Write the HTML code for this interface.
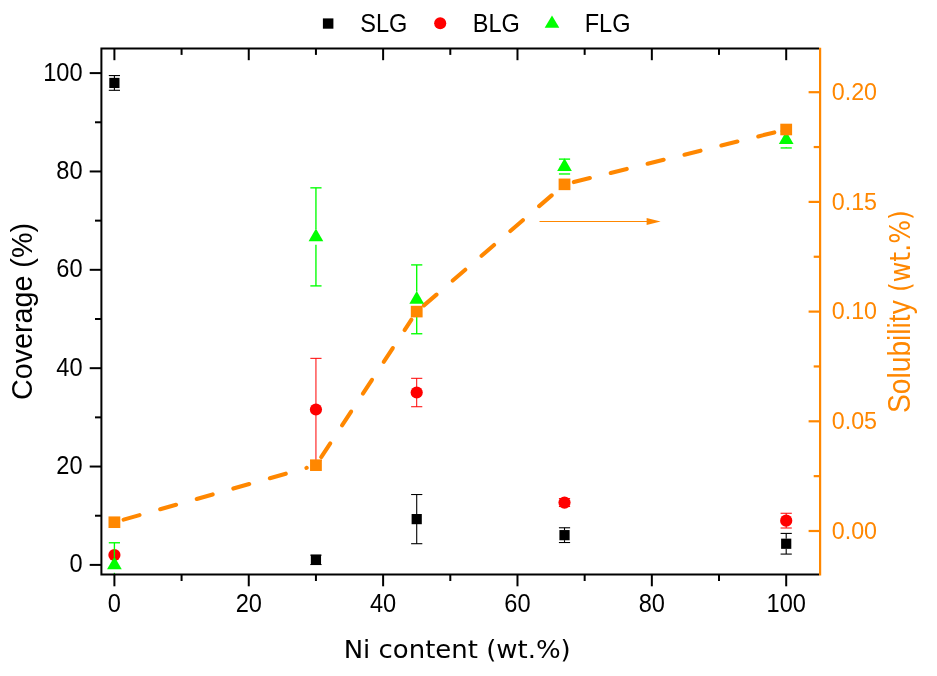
<!DOCTYPE html>
<html><head><meta charset="utf-8"><title>Chart</title><style>html,body{margin:0;padding:0;background:#fff}svg{display:block}</style></head><body>
<svg width="937" height="676" viewBox="0 0 937 676">
<rect width="937" height="676" fill="#fff"/>
<g fill="none" stroke="#ff8700" stroke-width="4.1" stroke-dasharray="16.5 21.5" stroke-linecap="round">
<line x1="123.64" y1="519.61" x2="306.70" y2="467.79"/>
<line x1="321.21" y1="457.15" x2="411.44" y2="319.63"/>
<line x1="423.98" y1="305.34" x2="557.23" y2="190.61"/>
<line x1="573.83" y1="182.04" x2="776.88" y2="131.80"/>
</g>
<g stroke="#000" stroke-width="1.1" fill="none"><line x1="114.40" y1="75.56" x2="114.40" y2="77.94"/><line x1="114.40" y1="87.94" x2="114.40" y2="90.31"/><line x1="108.80" y1="75.56" x2="120.00" y2="75.56"/><line x1="108.80" y1="90.31" x2="120.00" y2="90.31"/></g>
<rect x="109.30" y="77.84" width="10.2" height="10.2" fill="#000"/>
<g stroke="#000" stroke-width="1.1" fill="none"><line x1="310.34" y1="555.16" x2="321.54" y2="555.16"/><line x1="310.34" y1="564.51" x2="321.54" y2="564.51"/></g>
<rect x="310.84" y="554.73" width="10.2" height="10.2" fill="#000"/>
<g stroke="#000" stroke-width="1.1" fill="none"><line x1="416.71" y1="494.52" x2="416.71" y2="514.11"/><line x1="416.71" y1="524.11" x2="416.71" y2="543.70"/><line x1="411.11" y1="494.52" x2="422.31" y2="494.52"/><line x1="411.11" y1="543.70" x2="422.31" y2="543.70"/></g>
<rect x="411.61" y="514.01" width="10.2" height="10.2" fill="#000"/>
<g stroke="#000" stroke-width="1.1" fill="none"><line x1="564.51" y1="527.77" x2="564.51" y2="530.15"/><line x1="564.51" y1="540.15" x2="564.51" y2="542.52"/><line x1="558.91" y1="527.77" x2="570.11" y2="527.77"/><line x1="558.91" y1="542.52" x2="570.11" y2="542.52"/></g>
<rect x="559.41" y="530.05" width="10.2" height="10.2" fill="#000"/>
<g stroke="#000" stroke-width="1.1" fill="none"><line x1="786.20" y1="533.42" x2="786.20" y2="538.75"/><line x1="786.20" y1="548.75" x2="786.20" y2="554.08"/><line x1="780.60" y1="533.42" x2="791.80" y2="533.42"/><line x1="780.60" y1="554.08" x2="791.80" y2="554.08"/></g>
<rect x="781.10" y="538.65" width="10.2" height="10.2" fill="#000"/>
<circle cx="114.40" cy="555.06" r="6.1" fill="#ff0000"/>
<g stroke="#ff0000" stroke-width="1.0" fill="none"><line x1="315.94" y1="358.34" x2="315.94" y2="404.49"/><line x1="315.94" y1="414.49" x2="315.94" y2="460.64"/><line x1="310.34" y1="358.34" x2="321.54" y2="358.34"/><line x1="310.34" y1="460.64" x2="321.54" y2="460.64"/></g>
<circle cx="315.94" cy="409.49" r="6.1" fill="#ff0000"/>
<g stroke="#ff0000" stroke-width="1.0" fill="none"><line x1="416.71" y1="378.31" x2="416.71" y2="387.52"/><line x1="416.71" y1="397.52" x2="416.71" y2="406.74"/><line x1="411.11" y1="378.31" x2="422.31" y2="378.31"/><line x1="411.11" y1="406.74" x2="422.31" y2="406.74"/></g>
<circle cx="416.71" cy="392.52" r="6.1" fill="#ff0000"/>
<g stroke="#ff0000" stroke-width="1.0" fill="none"><line x1="558.91" y1="498.65" x2="570.11" y2="498.65"/><line x1="558.91" y1="506.52" x2="570.11" y2="506.52"/></g>
<circle cx="564.51" cy="502.59" r="6.1" fill="#ff0000"/>
<g stroke="#ff0000" stroke-width="1.0" fill="none"><line x1="786.20" y1="513.26" x2="786.20" y2="515.64"/><line x1="786.20" y1="525.64" x2="786.20" y2="528.01"/><line x1="780.60" y1="513.26" x2="791.80" y2="513.26"/><line x1="780.60" y1="528.01" x2="791.80" y2="528.01"/></g>
<circle cx="786.20" cy="520.64" r="6.1" fill="#ff0000"/>
<g stroke="#00ff00" stroke-width="1.35" fill="none"><line x1="114.40" y1="542.77" x2="114.40" y2="557.00"/><line x1="114.40" y1="572.80" x2="114.40" y2="574.60"/><line x1="108.80" y1="542.77" x2="120.00" y2="542.77"/></g>
<polygon points="114.40,556.60 107.05,569.30 121.75,569.30" fill="#00ff00"/>
<g stroke="#00ff00" stroke-width="1.35" fill="none"><line x1="315.94" y1="187.84" x2="315.94" y2="228.97"/><line x1="315.94" y1="244.77" x2="315.94" y2="285.90"/><line x1="310.34" y1="187.84" x2="321.54" y2="187.84"/><line x1="310.34" y1="285.90" x2="321.54" y2="285.90"/></g>
<polygon points="315.94,228.57 308.59,241.27 323.29,241.27" fill="#00ff00"/>
<g stroke="#00ff00" stroke-width="1.35" fill="none"><line x1="416.71" y1="264.90" x2="416.71" y2="291.43"/><line x1="416.71" y1="307.23" x2="416.71" y2="333.75"/><line x1="411.11" y1="264.90" x2="422.31" y2="264.90"/><line x1="411.11" y1="333.75" x2="422.31" y2="333.75"/></g>
<polygon points="416.71,291.03 409.36,303.73 424.06,303.73" fill="#00ff00"/>
<g stroke="#00ff00" stroke-width="1.35" fill="none"><line x1="558.91" y1="159.12" x2="570.11" y2="159.12"/><line x1="558.91" y1="173.97" x2="570.11" y2="173.97"/></g>
<polygon points="564.51,158.24 557.16,170.94 571.86,170.94" fill="#00ff00"/>
<g stroke="#00ff00" stroke-width="1.35" fill="none"><line x1="786.20" y1="131.03" x2="786.20" y2="131.59"/><line x1="786.20" y1="147.39" x2="786.20" y2="147.95"/><line x1="780.60" y1="131.03" x2="791.80" y2="131.03"/><line x1="780.60" y1="147.95" x2="791.80" y2="147.95"/></g>
<polygon points="786.20,131.19 778.85,143.89 793.55,143.89" fill="#00ff00"/>
<rect x="108.50" y="516.42" width="11.8" height="11.6" fill="#ff8700"/>
<rect x="310.04" y="459.38" width="11.8" height="11.6" fill="#ff8700"/>
<rect x="410.81" y="305.80" width="11.8" height="11.6" fill="#ff8700"/>
<rect x="558.61" y="178.55" width="11.8" height="11.6" fill="#ff8700"/>
<rect x="780.30" y="123.70" width="11.8" height="11.6" fill="#ff8700"/>
<line x1="539.5" y1="221.5" x2="648" y2="221.5" stroke="#ff8700" stroke-width="1.1"/>
<polygon points="660.6,221.5 646.6,217.9 646.6,225.1" fill="#ff8700"/>
<g stroke="#000" stroke-width="2" fill="none">
<polyline points="819.1,48.5 101.4,48.5 101.4,574.6 819.1,574.6"/>
<line x1="114.40" y1="574.6" x2="114.40" y2="586.3000000000001"/>
<line x1="114.40" y1="48.5" x2="114.40" y2="60.2"/>
<line x1="181.58" y1="574.6" x2="181.58" y2="581.0"/>
<line x1="181.58" y1="48.5" x2="181.58" y2="54.9"/>
<line x1="248.76" y1="574.6" x2="248.76" y2="586.3000000000001"/>
<line x1="248.76" y1="48.5" x2="248.76" y2="60.2"/>
<line x1="315.94" y1="574.6" x2="315.94" y2="581.0"/>
<line x1="315.94" y1="48.5" x2="315.94" y2="54.9"/>
<line x1="383.12" y1="574.6" x2="383.12" y2="586.3000000000001"/>
<line x1="383.12" y1="48.5" x2="383.12" y2="60.2"/>
<line x1="450.30" y1="574.6" x2="450.30" y2="581.0"/>
<line x1="450.30" y1="48.5" x2="450.30" y2="54.9"/>
<line x1="517.48" y1="574.6" x2="517.48" y2="586.3000000000001"/>
<line x1="517.48" y1="48.5" x2="517.48" y2="60.2"/>
<line x1="584.66" y1="574.6" x2="584.66" y2="581.0"/>
<line x1="584.66" y1="48.5" x2="584.66" y2="54.9"/>
<line x1="651.84" y1="574.6" x2="651.84" y2="586.3000000000001"/>
<line x1="651.84" y1="48.5" x2="651.84" y2="60.2"/>
<line x1="719.02" y1="574.6" x2="719.02" y2="581.0"/>
<line x1="719.02" y1="48.5" x2="719.02" y2="54.9"/>
<line x1="786.20" y1="574.6" x2="786.20" y2="586.3000000000001"/>
<line x1="786.20" y1="48.5" x2="786.20" y2="60.2"/>
<line x1="101.4" y1="564.90" x2="89.7" y2="564.90"/>
<line x1="101.4" y1="515.72" x2="95.0" y2="515.72"/>
<line x1="101.4" y1="466.54" x2="89.7" y2="466.54"/>
<line x1="101.4" y1="417.36" x2="95.0" y2="417.36"/>
<line x1="101.4" y1="368.18" x2="89.7" y2="368.18"/>
<line x1="101.4" y1="319.00" x2="95.0" y2="319.00"/>
<line x1="101.4" y1="269.82" x2="89.7" y2="269.82"/>
<line x1="101.4" y1="220.64" x2="95.0" y2="220.64"/>
<line x1="101.4" y1="171.46" x2="89.7" y2="171.46"/>
<line x1="101.4" y1="122.28" x2="95.0" y2="122.28"/>
<line x1="101.4" y1="73.10" x2="89.7" y2="73.10"/>
</g>
<g stroke="#ff8700" stroke-width="2.2" fill="none">
<line x1="820.1" y1="47.7" x2="820.1" y2="575.6"/>
<line x1="820.1" y1="531.00" x2="808.6" y2="531.00"/>
<line x1="820.1" y1="476.15" x2="813.7" y2="476.15"/>
<line x1="820.1" y1="421.30" x2="808.6" y2="421.30"/>
<line x1="820.1" y1="366.45" x2="813.7" y2="366.45"/>
<line x1="820.1" y1="311.60" x2="808.6" y2="311.60"/>
<line x1="820.1" y1="256.75" x2="813.7" y2="256.75"/>
<line x1="820.1" y1="201.90" x2="808.6" y2="201.90"/>
<line x1="820.1" y1="147.05" x2="813.7" y2="147.05"/>
<line x1="820.1" y1="92.20" x2="808.6" y2="92.20"/>
</g>
<text transform="translate(114.40,611.60) scale(0.937,1.0)" font-family="Liberation Sans, Arial, sans-serif" font-size="25.2" fill="#000" text-anchor="middle">0</text>
<text transform="translate(248.76,611.60) scale(0.937,1.0)" font-family="Liberation Sans, Arial, sans-serif" font-size="25.2" fill="#000" text-anchor="middle">20</text>
<text transform="translate(383.12,611.60) scale(0.937,1.0)" font-family="Liberation Sans, Arial, sans-serif" font-size="25.2" fill="#000" text-anchor="middle">40</text>
<text transform="translate(517.48,611.60) scale(0.937,1.0)" font-family="Liberation Sans, Arial, sans-serif" font-size="25.2" fill="#000" text-anchor="middle">60</text>
<text transform="translate(651.84,611.60) scale(0.937,1.0)" font-family="Liberation Sans, Arial, sans-serif" font-size="25.2" fill="#000" text-anchor="middle">80</text>
<text transform="translate(786.20,611.60) scale(0.937,1.0)" font-family="Liberation Sans, Arial, sans-serif" font-size="25.2" fill="#000" text-anchor="middle">100</text>
<text transform="translate(82.60,572.30) scale(0.937,1.0)" font-family="Liberation Sans, Arial, sans-serif" font-size="25.2" fill="#000" text-anchor="end">0</text>
<text transform="translate(82.60,473.94) scale(0.937,1.0)" font-family="Liberation Sans, Arial, sans-serif" font-size="25.2" fill="#000" text-anchor="end">20</text>
<text transform="translate(82.60,375.58) scale(0.937,1.0)" font-family="Liberation Sans, Arial, sans-serif" font-size="25.2" fill="#000" text-anchor="end">40</text>
<text transform="translate(82.60,277.22) scale(0.937,1.0)" font-family="Liberation Sans, Arial, sans-serif" font-size="25.2" fill="#000" text-anchor="end">60</text>
<text transform="translate(82.60,178.86) scale(0.937,1.0)" font-family="Liberation Sans, Arial, sans-serif" font-size="25.2" fill="#000" text-anchor="end">80</text>
<text transform="translate(82.60,80.50) scale(0.937,1.0)" font-family="Liberation Sans, Arial, sans-serif" font-size="25.2" fill="#000" text-anchor="end">100</text>
<text transform="translate(360.30,31.50) scale(0.935,1.0)" font-family="Liberation Sans, Arial, sans-serif" font-size="25.2" fill="#000" text-anchor="start">SLG</text>
<text transform="translate(472.80,31.50) scale(0.935,1.0)" font-family="Liberation Sans, Arial, sans-serif" font-size="25.2" fill="#000" text-anchor="start">BLG</text>
<text transform="translate(584.70,31.50) scale(0.935,1.0)" font-family="Liberation Sans, Arial, sans-serif" font-size="25.2" fill="#000" text-anchor="start">FLG</text>
<text transform="translate(831.70,538.60) scale(0.948,1.0)" font-family="Liberation Sans, Arial, sans-serif" font-size="24.6" fill="#ff8700" text-anchor="start">0.00</text>
<text transform="translate(831.70,428.90) scale(0.948,1.0)" font-family="Liberation Sans, Arial, sans-serif" font-size="24.6" fill="#ff8700" text-anchor="start">0.05</text>
<text transform="translate(831.70,319.20) scale(0.948,1.0)" font-family="Liberation Sans, Arial, sans-serif" font-size="24.6" fill="#ff8700" text-anchor="start">0.10</text>
<text transform="translate(831.70,209.50) scale(0.948,1.0)" font-family="Liberation Sans, Arial, sans-serif" font-size="24.6" fill="#ff8700" text-anchor="start">0.15</text>
<text transform="translate(831.70,99.80) scale(0.948,1.0)" font-family="Liberation Sans, Arial, sans-serif" font-size="24.6" fill="#ff8700" text-anchor="start">0.20</text>
<text transform="translate(32.30,311.50) rotate(-90) scale(1.0,1.035)" font-family="Liberation Sans, Arial, sans-serif" font-size="28.7" fill="#000" text-anchor="middle">Coverage (%)</text>
<text transform="translate(910.20,412.90) rotate(-90) scale(0.951,1.03)" font-family="Liberation Sans, Arial, sans-serif" font-size="29.6" fill="#ff8700" text-anchor="start">Solubility</text>
<text transform="translate(910.00,292.00) rotate(-90) scale(0.875,1.0)" font-family="DejaVu Sans, Verdana, sans-serif" font-size="28.7" fill="#ff8700" text-anchor="start">(wt.%)</text>
<text transform="translate(457.20,657.50) scale(1.03,1.0)" font-family="DejaVu Sans, Verdana, sans-serif" font-size="25.2" fill="#000" text-anchor="middle">Ni content (wt.%)</text>
<rect x="322.9" y="18.4" width="10.5" height="10.3" fill="#000"/>
<circle cx="440.2" cy="23.2" r="6.05" fill="#ff0000"/>
<polygon points="552,15.4 544.7,27.7 559.3,27.7" fill="#00ff00"/>
</svg>
</body></html>
